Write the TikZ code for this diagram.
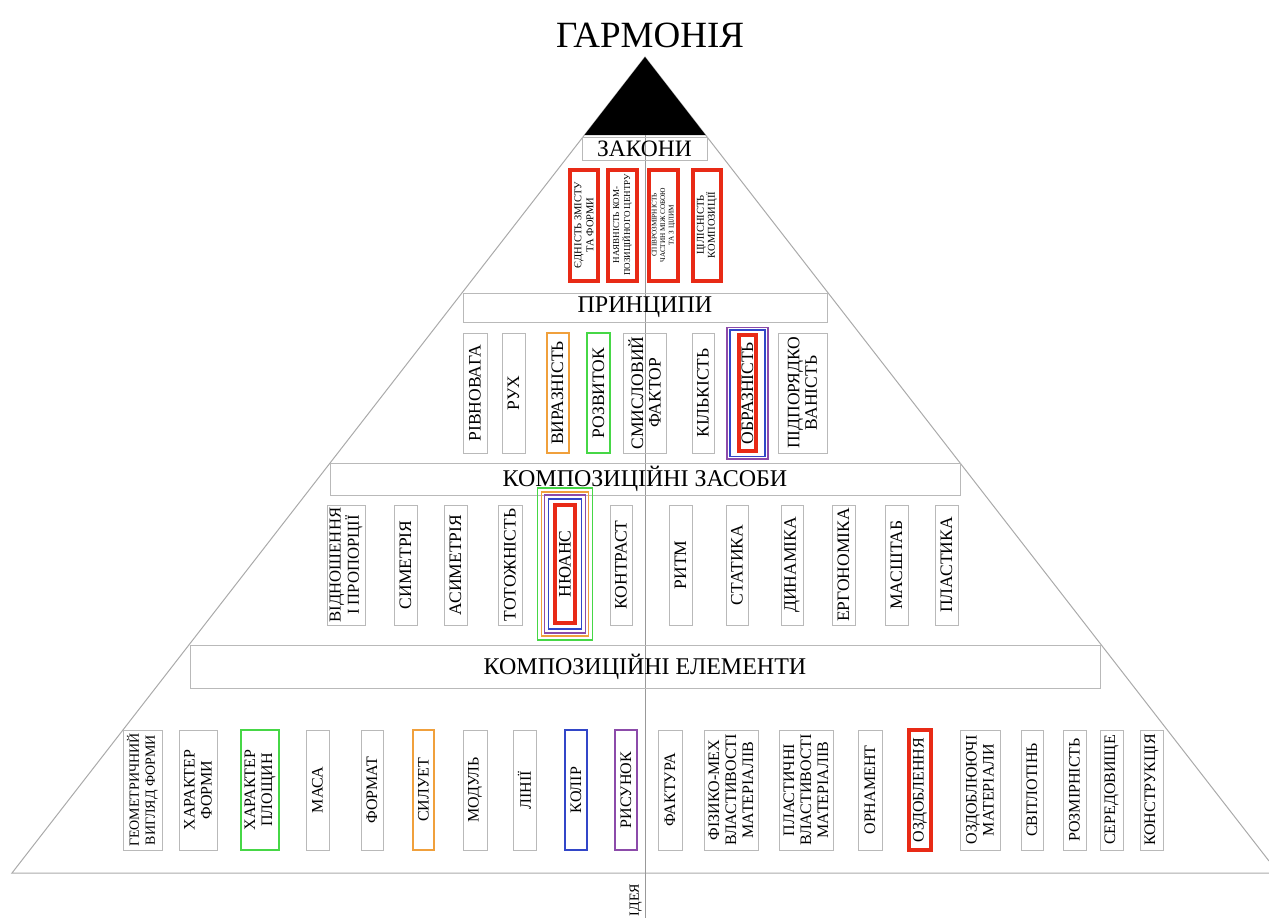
\documentclass[tikz,border=0pt]{standalone}
\usepackage{fontspec}
\setmainfont{Liberation Serif}
\usepackage{tikz}
\definecolor{boxgray}{RGB}{185,185,185}
\definecolor{edgegray}{RGB}{170,170,170}
\definecolor{hlred}{RGB}{232,42,22}
\definecolor{hlgreen}{RGB}{70,215,70}
\definecolor{hlorange}{RGB}{240,160,60}
\definecolor{hlblue}{RGB}{50,70,200}
\definecolor{hlpurple}{RGB}{140,75,170}

\begin{document}
\begin{tikzpicture}[x=1pt, y=-1pt,
  cell/.style={draw=boxgray, line width=1pt, rotate=90, minimum width=120pt, inner sep=1pt, align=center},
  lawcell/.style={cell, draw=hlred, line width=4pt, minimum width=111pt, minimum height=28pt},
  hot/.style={line width=4pt, draw=hlred},
  tint/.style={line width=2pt, draw=#1},
  band/.style={draw=boxgray, line width=1pt, inner sep=0pt},
  ring/.style={line width=1.6pt, draw=#1}]
  \useasboundingbox (0,0) rectangle (1269,918);
  \draw[edgegray, line width=1pt] (1269,861) -- (645,57) -- (12,873) -- (1269,873);
  \fill (645,57) -- (705.5,135) -- (584.5,135) -- cycle;
  \draw[gray!80, line width=1pt] (645,135) -- (645,918);

  \node[anchor=base, font=\fontsize{37}{37}\selectfont] (harmony) at (650,47) {ГАРМОНІЯ};

  \node[band, minimum width=125pt, minimum height=23pt, font=\fontsize{23.5}{23.5}\selectfont] (laws) at (644.5,148.5) {ЗАКОНИ};
  \node[lawcell, font=\fontsize{10.5}{12}\selectfont] (unity) at (584,225) {ЄДНІСТЬ ЗМІСТУ\\ТА ФОРМИ};
  \node[lawcell, minimum height=29pt, font=\fontsize{9}{11}\selectfont] (centre) at (622.5,225) {НАЯВНІСТЬ КОМ-\\ПОЗИЦІЙНОГО ЦЕНТРУ};
  \node[lawcell, minimum height=29pt, font=\fontsize{7.2}{8.5}\selectfont] (ratio) at (663.5,225) {СПІВРОЗМІРНІСТЬ\\ЧАСТИН МІЖ СОБОЮ\\ТА З ЦІЛИМ};
  \node[lawcell, font=\fontsize{10.5}{11}\selectfont] (whole) at (707,225) {ЦІЛІСНІСТЬ\\КОМПОЗИЦІЇ};

  \node[band, minimum width=364pt, minimum height=29pt, font=\fontsize{24}{24}\selectfont] (principles) at (645,307.5) {ПРИНЦИПИ};
  \begin{scope}[every node/.append style={font=\fontsize{17.5}{17.5}\selectfont}]
    \node[cell, minimum height=24pt] (balance) at (475,393) {РІВНОВАГА};
    \node[cell, minimum height=23pt] (motion) at (513.5,393) {РУХ};
    \node[cell, tint=hlorange, minimum height=22pt] (express) at (557.5,393) {ВИРАЗНІСТЬ};
    \node[cell, tint=hlgreen, minimum height=23pt] (growth) at (598.5,393) {РОЗВИТОК};
    \node[cell, minimum height=43pt] (meaning) at (644.5,393) {СМИСЛОВИЙ\\ФАКТОР};
    \node[cell, minimum height=22pt] (quantity) at (703,393) {КІЛЬКІСТЬ};
    \node[cell, hot, minimum height=17pt, minimum width=116pt] (imagery) at (747.5,393) {ОБРАЗНІСТЬ};
    \node[cell, minimum height=49pt] (order) at (802.5,393) {ПІДПОРЯДКО\\ВАНІСТЬ};
  \end{scope}
  \draw[ring=hlpurple] ([shift={(-20.5,-65.5)}]imagery.center) rectangle ([shift={(20.5,66)}]imagery.center);
  \draw[ring=hlblue] ([shift={(-17.5,-63)}]imagery.center) rectangle ([shift={(17.5,63.5)}]imagery.center);

  \node[band, minimum width=630pt, minimum height=32pt, font=\fontsize{24}{24}\selectfont] (means) at (645,479) {КОМПОЗИЦІЙНІ ЗАСОБИ};
  \begin{scope}[every node/.append style={font=\fontsize{17.5}{17.5}\selectfont}]
    \node[cell, minimum height=38pt, font=\fontsize{16.7}{17}\selectfont] (proportion) at (346,565) {ВІДНОШЕННЯ\\І ПРОПОРЦІЇ};
    \node[cell, minimum height=23pt] (symmetry) at (405.5,565) {СИМЕТРІЯ};
    \node[cell, minimum height=23pt] (asymmetry) at (455.5,565) {АСИМЕТРІЯ};
    \node[cell, minimum height=24pt] (identity) at (510,565) {ТОТОЖНІСТЬ};
    \node[cell, hot, minimum height=20pt, minimum width=118pt] (nuance) at (565,564) {НЮАНС};
    \node[cell, minimum height=22pt] (contrast) at (621,565) {КОНТРАСТ};
    \node[cell, minimum height=23pt] (rhythm) at (680.5,565) {РИТМ};
    \node[cell, minimum height=22pt] (statics) at (737,565) {СТАТИКА};
    \node[cell, minimum height=22pt] (dynamics) at (792,565) {ДИНАМІКА};
    \node[cell, minimum height=23pt] (ergonomics) at (843.5,565) {ЕРГОНОМІКА};
    \node[cell, minimum height=23pt] (scale) at (896.5,565) {МАСШТАБ};
    \node[cell, minimum height=23pt] (plasticity) at (946.5,565) {ПЛАСТИКА};
  \end{scope}
  \draw[ring=hlgreen] ([shift={(-27.5,-76)}]nuance.center) rectangle ([shift={(27.5,76)}]nuance.center);
  \draw[ring=hlorange] ([shift={(-23.5,-72)}]nuance.center) rectangle ([shift={(23.5,72)}]nuance.center);
  \draw[ring=hlpurple] ([shift={(-20.5,-69)}]nuance.center) rectangle ([shift={(20.5,69)}]nuance.center);
  \draw[ring=hlblue] ([shift={(-16.5,-65)}]nuance.center) rectangle ([shift={(16.5,65)}]nuance.center);

  \node[band, minimum width=910pt, minimum height=43pt, font=\fontsize{24}{24}\selectfont] (elements) at (645,666.5) {КОМПОЗИЦІЙНІ ЕЛЕМЕНТИ};
  \begin{scope}[every node/.append style={font=\fontsize{16}{17}\selectfont}]
    \node[cell, minimum height=39pt, font=\fontsize{14}{16}\selectfont] (geometry) at (142.5,790) {ГЕОМЕТРИЧНИЙ\\ВИГЛЯД ФОРМИ};
    \node[cell, minimum height=38pt] (formtype) at (198,790) {ХАРАКТЕР\\ФОРМИ};
    \node[cell, tint=hlgreen, minimum height=38pt] (planes) at (260,790) {ХАРАКТЕР\\ПЛОЩИН};
    \node[cell, minimum height=23pt] (mass) at (317.5,790) {МАСА};
    \node[cell, minimum height=22pt] (format) at (372,790) {ФОРМАТ};
    \node[cell, tint=hlorange, minimum height=21pt] (silhouette) at (423.5,790) {СИЛУЕТ};
    \node[cell, minimum height=24pt] (module) at (475,790) {МОДУЛЬ};
    \node[cell, minimum height=23pt] (lines) at (524.5,790) {ЛІНІЇ};
    \node[cell, tint=hlblue, minimum height=22pt] (colour) at (576,790) {КОЛІР};
    \node[cell, tint=hlpurple, minimum height=22pt] (pattern) at (626,790) {РИСУНОК};
    \node[cell, minimum height=24pt] (texture) at (670,790) {ФАКТУРА};
    \node[cell, minimum height=54pt] (physmech) at (731,790) {ФІЗИКО-МЕХ\\ВЛАСТИВОСТІ\\МАТЕРІАЛІВ};
    \node[cell, minimum height=54pt] (plastic) at (806,790) {ПЛАСТИЧНІ\\ВЛАСТИВОСТІ\\МАТЕРІАЛІВ};
    \node[cell, minimum height=24pt] (ornament) at (870,790) {ОРНАМЕНТ};
    \node[cell, hot, minimum height=22pt] (finish) at (920,790) {ОЗДОБЛЕННЯ};
    \node[cell, minimum height=40pt] (finishmat) at (980,790) {ОЗДОБЛЮЮЧІ\\МАТЕРІАЛИ};
    \node[cell, minimum height=22pt] (chiaro) at (1032,790) {СВІТЛОТІНЬ};
    \node[cell, minimum height=23pt] (proportions) at (1074.5,790) {РОЗМІРНІСТЬ};
    \node[cell, minimum height=23pt] (setting) at (1111.5,790) {СЕРЕДОВИЩЕ};
    \node[cell, minimum height=23pt] (structure) at (1151.5,790) {КОНСТРУКЦІЯ};
  \end{scope}

  \node[rotate=90, anchor=south, inner sep=1pt, font=\fontsize{14}{14}\selectfont] (idea) at (643,900) {ІДЕЯ};
\end{tikzpicture}
\end{document}
